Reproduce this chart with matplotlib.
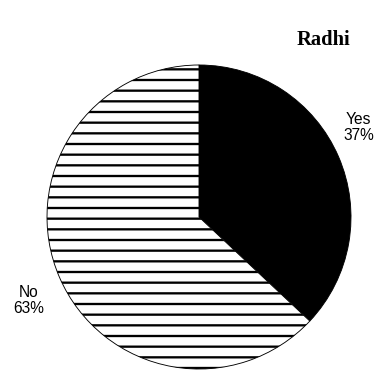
import matplotlib
matplotlib.use('Agg')
import matplotlib.pyplot as plt

labels = ['Yes', 'No']
shares = [37, 63]
title = 'Radhi'

DPI = 64
plt.rcParams['hatch.linewidth'] = 2.6
plt.rcParams['hatch.color'] = '#202020'

fig = plt.figure(figsize=(388 / DPI, 375 / DPI), dpi=DPI)
ax = fig.add_axes([47 / 388, 6 / 375, 304 / 388, 304 / 375])

wedges, _ = ax.pie(shares, startangle=90, counterclock=False,
                   colors=['black', 'white'], radius=1.0,
                   wedgeprops=dict(edgecolor='black', linewidth=1.0))
wedges[1].set_hatch('-')

ax.set_xlim(-1.0, 1.0)
ax.set_ylim(-1.0, 1.0)
ax.set_aspect('equal')
ax.axis('off')

# label positions picked by eye
label_pos = [(1.05, 0.59), (-1.12, -0.55)]
for lab, val, (x, y) in zip(labels, shares, label_pos):
    ax.text(x, y, '%s\n%d%%' % (lab, val), ha='center', va='center',
            fontsize=17.5, family='Liberation Sans', clip_on=False,
            linespacing=1.1)

fig.text(323 / 388, 1 - 40 / 375, title, ha='center', va='center',
         fontsize=23, fontweight='bold', family='Liberation Serif')

fig.savefig('out.png', dpi=DPI)
